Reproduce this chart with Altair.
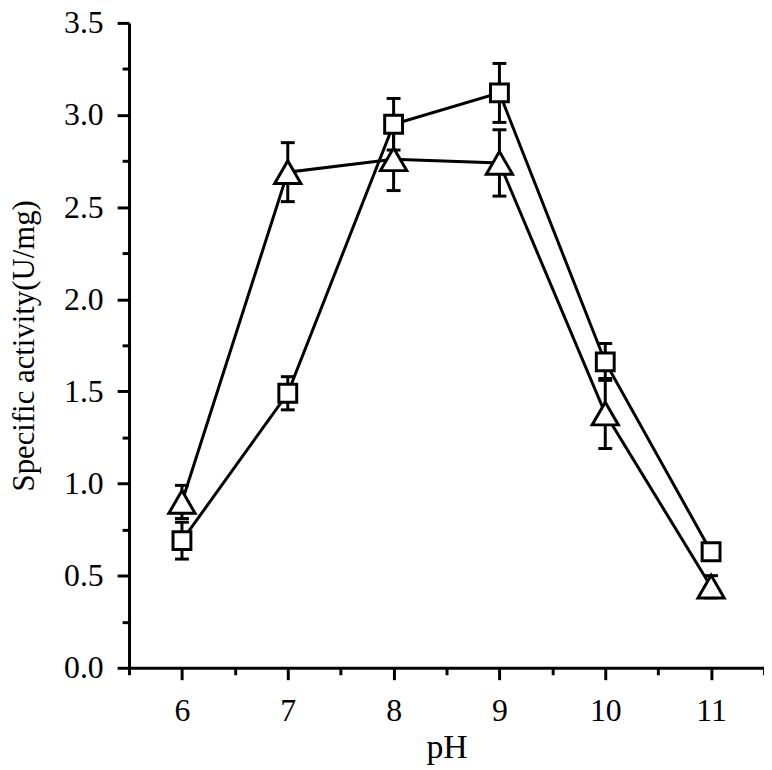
import altair as alt
import pandas as pd

# ---- data ----
ph = [6, 7, 8, 9, 10, 11]
square_vals = [0.69, 1.49, 2.95, 3.12, 1.66, 0.63]
square_err = [0.10, 0.09, 0.14, 0.16, 0.10, 0.03]
tri_vals = [0.90, 2.69, 2.76, 2.74, 1.38, 0.44]
tri_err = [0.09, 0.16, 0.17, 0.18, 0.19, 0.06]

x_major = [6, 7, 8, 9, 10, 11]
x_minor = [5.5, 6.5, 7.5, 8.5, 9.5, 10.5, 11.5]
y_major = [0.0, 0.5, 1.0, 1.5, 2.0, 2.5, 3.0, 3.5]
y_minor = [0.25, 0.75, 1.25, 1.75, 2.25, 2.75, 3.25]

rows = []
for name, vals, errs in (("square", square_vals, square_err),
                         ("triangle", tri_vals, tri_err)):
    for p, v, e in zip(ph, vals, errs):
        rows.append(dict(series=name, pH=p, value=v, lo=v - e, hi=v + e))
df = pd.DataFrame(rows)

FONT = "Liberation Serif"
xs = alt.Scale(domain=[5.5, 11.5], nice=False, zero=False)
ys = alt.Scale(domain=[0, 3.5], nice=False, zero=False)

common = dict(grid=False, domainColor="black", domainWidth=3,
              tickColor="black", tickWidth=3, labelColor="black",
              labelFont=FONT, titleFont=FONT, titleColor="black",
              titleFontWeight="normal", labelFlush=False, labelOverlap=False)

x_axis = alt.Axis(values=x_major, title="pH", format="d", orient="bottom",
                  tickSize=12, labelFontSize=32, labelPadding=16,
                  titleFontSize=34, titlePadding=4, **common)
y_axis = alt.Axis(values=y_major, title="Specific activity(U/mg)", format=".1f",
                  orient="left", tickSize=12, labelFontSize=32, labelPadding=14,
                  titleFontSize=31, titlePadding=23, **common)
x_minor_axis = alt.Axis(values=x_minor, orient="bottom", tickSize=7, labels=False,
                        domain=False, title=None, grid=False,
                        tickColor="black", tickWidth=3)
y_minor_axis = alt.Axis(values=y_minor, orient="left", tickSize=7, labels=False,
                        domain=False, title=None, grid=False,
                        tickColor="black", tickWidth=3)

base = alt.Chart(df)

lines = base.mark_line(color="black", strokeWidth=3).encode(
    x=alt.X("pH:Q", scale=xs, axis=x_axis),
    y=alt.Y("value:Q", scale=ys, axis=y_axis),
    detail="series:N",
)

minor = base.mark_point(opacity=0).encode(
    x=alt.X("pH:Q", scale=xs, axis=x_minor_axis),
    y=alt.Y("value:Q", scale=ys, axis=y_minor_axis),
)

err = base.mark_rule(color="black", strokeWidth=3).encode(
    x=alt.X("pH:Q", scale=xs, axis=None),
    y=alt.Y("lo:Q", scale=ys, axis=None),
    y2="hi:Q",
)
cap_lo = base.mark_tick(orient="horizontal", size=14, thickness=3, color="black",
                        opacity=1).encode(
    x=alt.X("pH:Q", scale=xs, axis=None),
    y=alt.Y("lo:Q", scale=ys, axis=None),
)
cap_hi = base.mark_tick(orient="horizontal", size=14, thickness=3, color="black",
                        opacity=1).encode(
    x=alt.X("pH:Q", scale=xs, axis=None),
    y=alt.Y("hi:Q", scale=ys, axis=None),
)

tri_pts = base.transform_filter(alt.datum.series == "triangle").mark_point(
    shape="triangle-up", size=700, filled=True, fill="white", stroke="black",
    strokeWidth=3, opacity=1
).encode(
    x=alt.X("pH:Q", scale=xs, axis=None),
    y=alt.Y("value:Q", scale=ys, axis=None),
)
sq_pts = base.transform_filter(alt.datum.series == "square").mark_point(
    shape="square", size=324, filled=True, fill="white", stroke="black",
    strokeWidth=3, opacity=1
).encode(
    x=alt.X("pH:Q", scale=xs, axis=None),
    y=alt.Y("value:Q", scale=ys, axis=None),
)

chart = alt.layer(lines, minor, err, cap_lo, cap_hi, tri_pts, sq_pts).resolve_axis(
    x="independent", y="independent"
).properties(
    width=640, height=650,
    autosize=alt.AutoSizeParams(type="none"),
    padding={"left": 122, "top": 12, "right": 0, "bottom": 100},
    background="white",
).configure_view(stroke=None)

chart.save("out.html", embed_options={"renderer": "svg", "actions": False})
